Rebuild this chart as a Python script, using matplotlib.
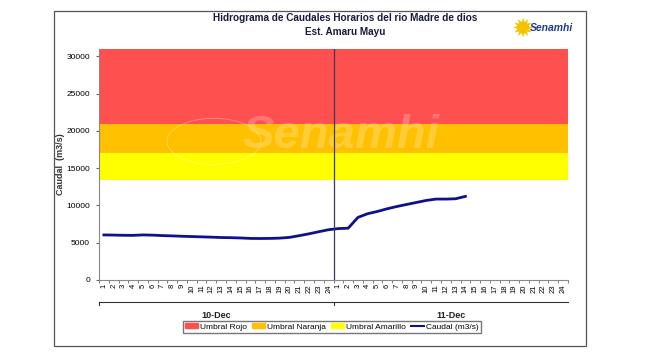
import numpy as np
import matplotlib.pyplot as plt
from matplotlib.patches import Patch, Rectangle
from matplotlib.lines import Line2D

plt.rcParams['font.family'] = ['Liberation Sans', 'DejaVu Sans']

# hourly flow (m3/s)
hours = list(range(1, 25))
days = ['10-Dec', '11-Dec']
caudal_dia1 = [6050, 6030, 6000, 5990, 6050, 6020, 5960, 5920, 5870, 5830, 5790, 5750,
               5700, 5680, 5640, 5580, 5570, 5580, 5620, 5720, 5950, 6200, 6480, 6750]
caudal_dia2 = [6900, 6950, 8400, 8900, 9200, 9560, 9870, 10140, 10410, 10680, 10860, 10860,
               10900, 11220]

# thresholds
umbral_amarillo = [13400, 17000]
umbral_naranja = [17000, 21000]
umbral_rojo = [21000, 31000]

red = '#FF5050'
orange = '#FFC000'
yellow = '#FFFF00'
navy = '#10108C'

fig = plt.figure(figsize=(6.45, 3.63), dpi=100)
W, H = 645, 363

# outer frame
fig.patches.append(Rectangle((54 / W, 1 - 346 / H), (586 - 54) / W, (346 - 11) / H,
                             transform=fig.transFigure, fill=False, ec='#555555', lw=0.9))

ax = fig.add_axes([99 / W, 1 - 280 / H, (568 - 99) / W, (280 - 49) / H])

ax.axhspan(*umbral_rojo, color=red, lw=0)
ax.axhspan(*umbral_naranja, color=orange, lw=0)
ax.axhspan(*umbral_amarillo, color=yellow, lw=0)

# watermark
ax.text(0.515, 0.625, 'Senamhi', transform=ax.transAxes, fontsize=34, fontweight='bold',
        style='italic', color='white', alpha=0.22, ha='center', va='center')
ax.add_patch(plt.Circle((0.245, 0.60), 0.10, transform=ax.transAxes, fill=False,
                        ec='white', alpha=0.35, lw=0.6))

n = 2 * len(hours)
x1 = np.arange(len(caudal_dia1))
x2 = np.arange(len(caudal_dia2)) + len(hours)
ax.plot(np.concatenate([x1, x2]), caudal_dia1 + caudal_dia2, color=navy, lw=2, zorder=3)

ax.axvline(len(hours) - 0.5, color='#3a3a5a', lw=0.9, zorder=4)

ax.set_xlim(-0.5, n - 0.5)
ax.set_ylim(0, 31000)
ax.set_yticks(range(0, 30001, 5000))
ax.set_xticks(np.arange(n))
ax.set_xticklabels([str(h) for h in hours] * 2, rotation=90, fontsize=5.5)
ax.set_xticks(np.arange(n + 1) - 0.5, minor=True)
ax.tick_params(axis='x', which='major', length=0, pad=3)
ax.tick_params(axis='x', which='minor', length=2.5, color='#666666')
ax.tick_params(axis='y', length=2.5, labelsize=6, color='#666666', pad=4)
for s in ['top', 'right']:
    ax.spines[s].set_visible(False)
for s in ['left', 'bottom']:
    ax.spines[s].set_color('#888888')
    ax.spines[s].set_linewidth(0.8)

ax.set_ylabel('Caudal  (m3/s)', fontsize=6.5, fontweight='bold', color='#333333', labelpad=1)

# day brackets
for i, d in enumerate(days):
    a, b = i * 24 - 0.5, (i + 1) * 24 - 0.5
    ax.plot([a, b], [-0.095, -0.095], transform=ax.get_xaxis_transform(), color='#333333',
            lw=0.8, clip_on=False)
    ax.plot([a, a], [-0.095, -0.11], transform=ax.get_xaxis_transform(), color='#333333',
            lw=0.8, clip_on=False)
    ax.text((a + b) / 2, -0.135, d, transform=ax.get_xaxis_transform(), ha='center',
            va='top', fontsize=6.5, fontweight='bold', color='#222222')

fig.text(345 / W, 1 - 18 / H, 'Hidrograma de Caudales Horarios del rio Madre de dios',
         ha='center', va='center', fontsize=7.2, fontweight='bold', color='#1a1a3a')
fig.text(345 / W, 1 - 32 / H, 'Est. Amaru Mayu', ha='center', va='center', fontsize=7.2,
         fontweight='bold', color='#1a1a3a')

# logo
fig.text(523 / W, 1 - 30 / H, '\u2739', ha='center', va='center', fontsize=19,
         color='#F5C400', family=['DejaVu Sans'])
fig.text(552 / W, 1 - 28 / H, 'Senamhi', ha='center', va='center', fontsize=7.5,
         fontweight='bold', style='italic', color='#1F3C8C')

handles = [Patch(color=red), Patch(color=orange), Patch(color=yellow),
           Line2D([], [], color=navy, lw=1.5)]
labels = ['Umbral Rojo', 'Umbral Naranja', 'Umbral Amarillo', 'Caudal (m3/s)']
fig.legend(handles, labels, loc='center', bbox_to_anchor=(332 / W, 1 - 327 / H), ncol=4,
           fontsize=6, frameon=True, fancybox=False, edgecolor='#555555',
           handlelength=1.5, handleheight=0.5, handletextpad=0.3, columnspacing=0.6,
           borderpad=0.3)

fig.savefig('out.png', dpi=100)
